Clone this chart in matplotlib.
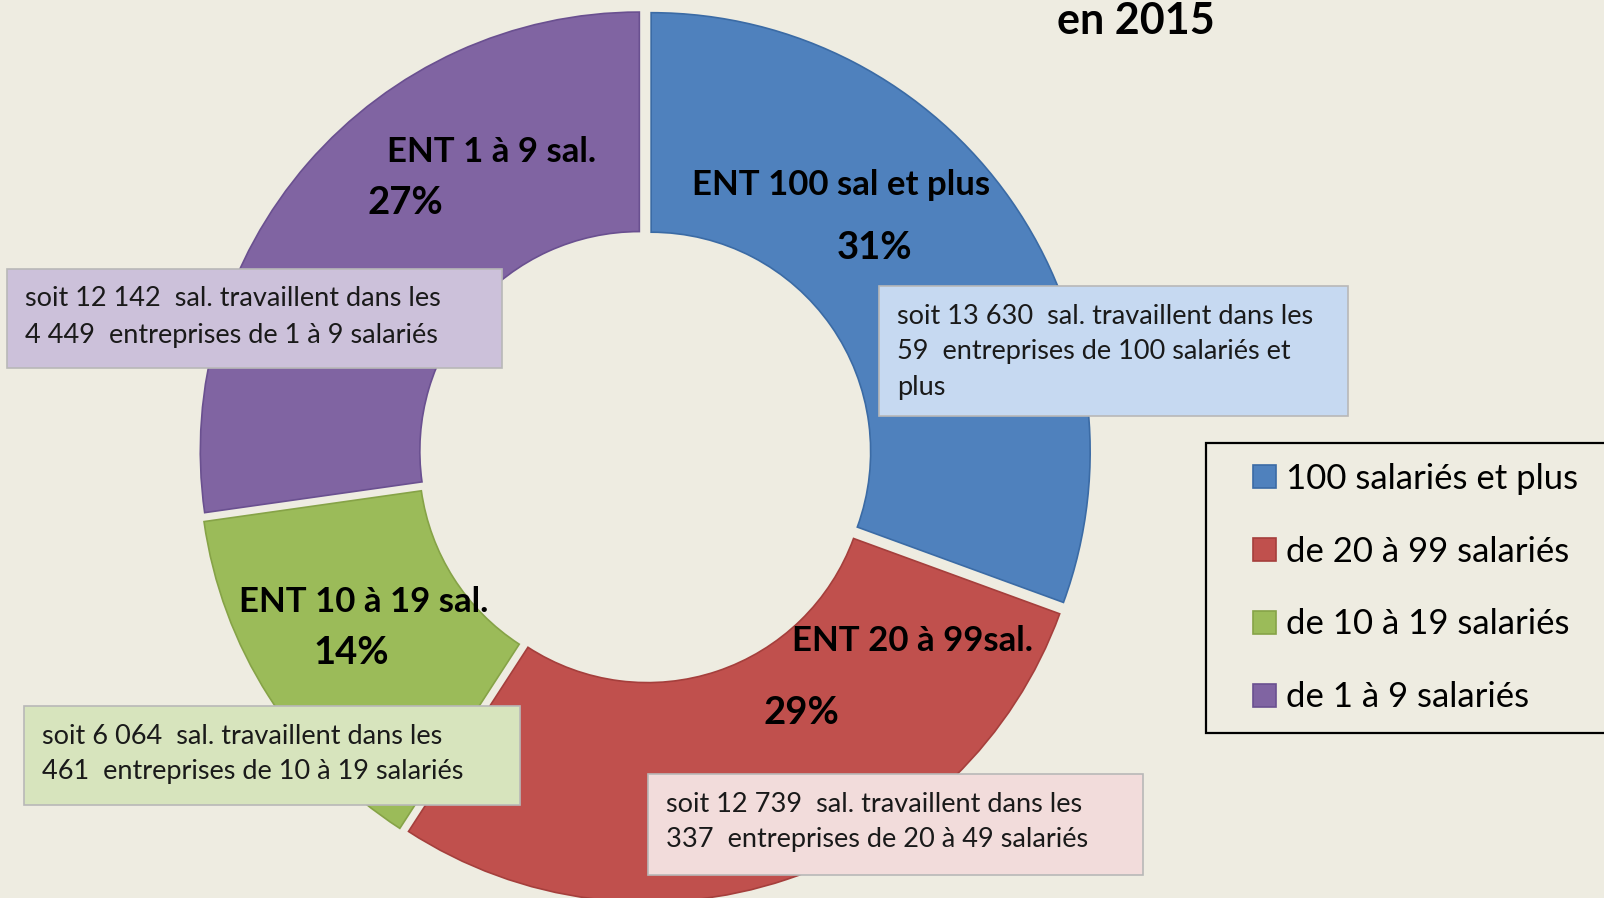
import matplotlib
matplotlib.use("Agg")
import matplotlib.pyplot as plt
from matplotlib.patches import Rectangle

# ---- data ----
categories = ["100 salariés et plus", "de 20 à 99 salariés",
              "de 10 à 19 salariés", "de 1 à 9 salariés"]
slice_labels = ["ENT 100 sal et plus", "ENT 20 à 99sal.",
                "ENT 10 à 19 sal.", "ENT 1 à 9 sal."]
salaries = [13630, 12739, 6064, 12142]
entreprises = [59, 337, 461, 4449]
box_ranges = ["de 100 salariés et", "de 20 à 49 salariés",
              "de 10 à 19 salariés", "de 1 à 9 salariés"]
box_extra = ["plus", None, None, None]
title = "en 2015"

colors = ["#4F81BD", "#C0504D", "#9BBB59", "#8064A2"]
edges = ["#3B6BA5", "#A53F3C", "#86A347", "#6A5090"]
box_fill = ["#C6D9F1", "#F2DCDB", "#D7E4BD", "#CCC1DA"]
bg = "#EEECE1"
FONT = "Lato"

W, H = 1604, 898
fig = plt.figure(figsize=(W / 100, H / 100), dpi=100, facecolor=bg)
ax = fig.add_axes([0, 0, 1, 1])
ax.set_facecolor(bg)

def Y(py):
    return H - py

cx, cy, R = 645, Y(456), 439
wedges, _ = ax.pie(salaries, colors=colors, startangle=90, counterclock=False,
                   center=(cx, cy), radius=R, explode=[7.5] * 4,
                   wedgeprops=dict(width=R * 0.5, linewidth=1.2))
for w, ec in zip(wedges, edges):
    w.set_edgecolor(ec)

ax.set_xlim(0, W)
ax.set_ylim(0, H)
ax.set_aspect("auto")
ax.axis("off")

total = sum(salaries)
pcts = [round(v / total * 100) for v in salaries]

# slice labels (name, percent) positions in pixels
name_pos = [(841, 185), (913, 641), (364, 602), (492, 152)]
pct_pos = [(875, 248), (801, 713), (351, 653), (405, 203)]
for i in range(4):
    ax.text(name_pos[i][0], Y(name_pos[i][1]), slice_labels[i], ha="center",
            va="center", fontsize=25, fontweight="bold", family=FONT, color="black")
    ax.text(pct_pos[i][0], Y(pct_pos[i][1]), f"{pcts[i]}%", ha="center",
            va="center", fontsize=27.5, fontweight="bold", family=FONT, color="black")

def fmt(v):
    return f"{v:,}".replace(",", " ")

# annotation boxes: (x0, y0, x1, y1) in pixels
boxes = [(879, 286, 1348, 416), (648, 774, 1143, 875),
         (24, 706, 520, 805), (7, 269, 502, 368)]
for i in range(4):
    x0, y0, x1, y1 = boxes[i]
    ax.add_patch(Rectangle((x0, Y(y1)), x1 - x0, y1 - y0, facecolor=box_fill[i],
                           edgecolor="#B8B8B8", linewidth=1.2, zorder=5))
    lines = [f"soit {fmt(salaries[i])}  sal. travaillent dans les",
             f"{fmt(entreprises[i])}  entreprises {box_ranges[i]}"]
    if box_extra[i]:
        lines.append(box_extra[i])
    for k, ln in enumerate(lines):
        ax.text(x0 + 18, Y(y0 + 30 + 36 * k), ln, ha="left", va="center",
                fontsize=19.5, family=FONT, color="#1a1a1a", zorder=6)

# title
ax.text(1136, Y(34), title, ha="center", va="baseline", fontsize=31,
        fontweight="bold", family=FONT, color="black")

# legend frame + legend
ax.add_patch(Rectangle((1206, Y(733)), 430, 290, facecolor=bg,
                       edgecolor="black", linewidth=1.6, zorder=8, clip_on=False))
leg = ax.legend(wedges, categories, loc="center left",
                bbox_to_anchor=(1253 / W, 1 - 588 / H),
                frameon=False, prop=dict(family=FONT, size=25),
                handlelength=0.65, handleheight=0.65, handletextpad=0.3,
                labelspacing=1.18, borderpad=0, borderaxespad=0)
leg.set_zorder(9)

fig.savefig("out.png", dpi=100, facecolor=bg)
